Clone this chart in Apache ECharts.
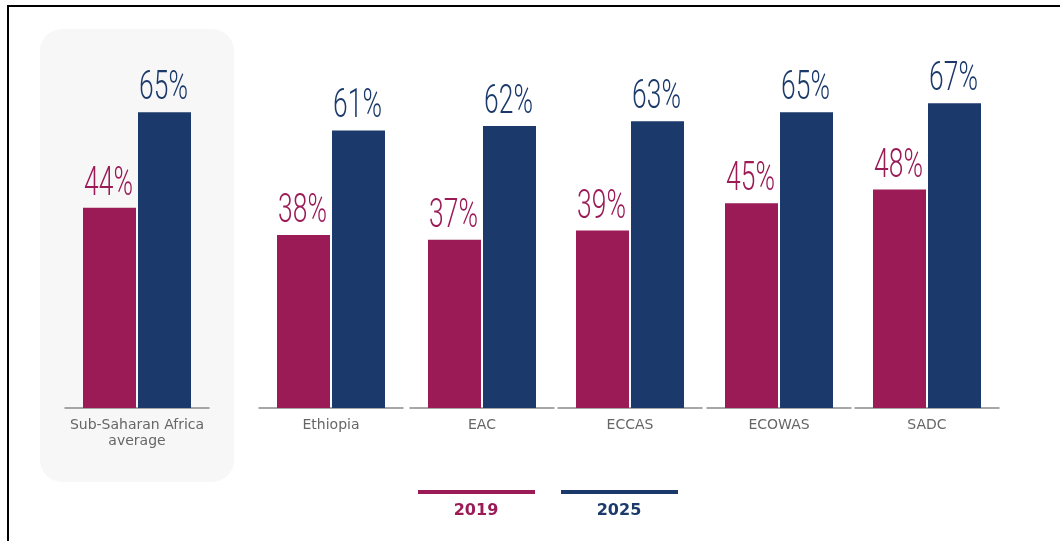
<!DOCTYPE html>
<html><head><meta charset="utf-8">
<script src="https://cdn.jsdelivr.net/npm/echarts@6/dist/echarts.min.js"></script>
<style>html,body{margin:0;padding:0;background:#fff}#c{width:1060px;height:541px}</style>
</head><body><div id="c"></div>
<script>
// ---- data ----
const categories = ['Sub-Saharan Africa\naverage', 'Ethiopia', 'EAC', 'ECCAS', 'ECOWAS', 'SADC'];
const seriesNames = ['2019', '2025'];
const values2019 = [44, 38, 37, 39, 45, 48];
const values2025 = [65, 61, 62, 63, 65, 67];

// ---- layout / style ----
const colors = ['#9b1b57', '#1b3a6b'];
const gridLefts = [65, 259, 410, 558, 707, 855];
const gridWidth = 144;
const barW = 53, barGapPx = 2;

const grids = [], xAxes = [], yAxes = [], series = [];
categories.forEach((cat, i) => {
  grids.push({ left: gridLefts[i], width: gridWidth, top: 44, bottom: 133 });
  xAxes.push({
    type: 'category', gridIndex: i, data: [cat],
    axisLine: { show: true, lineStyle: { color: '#8a8a8a', width: 1.5 } },
    axisTick: { show: false },
    axisLabel: { color: '#666', fontSize: 14, fontFamily: '"DejaVu Sans", sans-serif', margin: 9, lineHeight: 16, interval: 0 }
  });
  yAxes.push({ type: 'value', gridIndex: i, min: 0, max: 80, show: false, splitLine: { show: false } });
  [values2019, values2025].forEach((vals, s) => {
    series.push({
      name: seriesNames[s], type: 'bar', xAxisIndex: i, yAxisIndex: i,
      data: [vals[i]], barWidth: barW, barGap: (barGapPx / barW * 100) + '%',
      itemStyle: { color: colors[s] }
    });
    // value label, drawn condensed at the bar top through the axis scale
    series.push({
      name: seriesNames[s], type: 'custom', xAxisIndex: i, yAxisIndex: i,
      data: [[0, vals[i]]], z: 5,
      renderItem: (params, api) => {
        const pt = api.coord([api.value(0), api.value(1)]);
        const off = (s === 0 ? -1 : 1) * (barW + barGapPx) / 2;
        return {
          type: 'text', x: pt[0] + off - 1, y: pt[1] - 23, scaleX: 0.66,
          style: {
            text: api.value(1) + '%', fill: colors[s],
            font: '300 40px Roboto, sans-serif', align: 'center', verticalAlign: 'middle'
          }
        };
      }
    });
  });
});

const chart = echarts.init(document.getElementById('c'), null, { renderer: 'canvas' });
chart.setOption({
  animation: false,
  backgroundColor: '#fff',
  grid: grids, xAxis: xAxes, yAxis: yAxes, series: series,
  graphic: [
    { type: 'rect', z: -10, shape: { x: 40, y: 29, width: 194, height: 453, r: 22 }, style: { fill: '#f7f7f7' }, silent: true },
    { type: 'rect', z: 100, shape: { x: 8, y: 6, width: 1200, height: 700 }, style: { fill: 'none', stroke: '#000', lineWidth: 2 }, silent: true },
    { type: 'rect', shape: { x: 418, y: 490, width: 117, height: 4 }, style: { fill: colors[0] } },
    { type: 'rect', shape: { x: 561, y: 490, width: 117, height: 4 }, style: { fill: colors[1] } },
    { type: 'text', x: 476, y: 511, style: { text: seriesNames[0], fill: colors[0], font: 'bold 16px "DejaVu Sans", sans-serif', align: 'center', verticalAlign: 'middle' } },
    { type: 'text', x: 619, y: 511, style: { text: seriesNames[1], fill: colors[1], font: 'bold 16px "DejaVu Sans", sans-serif', align: 'center', verticalAlign: 'middle' } }
  ]
});
</script>
</body></html>
